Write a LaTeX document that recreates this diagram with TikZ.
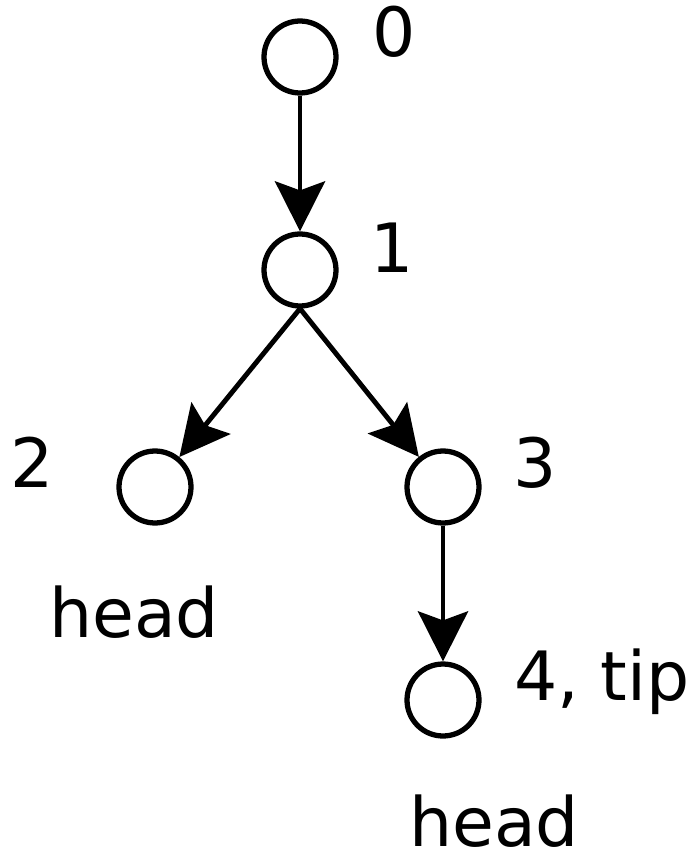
\documentclass[tikz,border=0pt]{standalone}
\usepackage{fontspec}
\setmainfont{DejaVu Sans}
\usetikzlibrary{arrows.meta}

\begin{document}
\begin{tikzpicture}[x=0.02cm,y=-0.02cm,
    state/.style={draw,circle,line width=3pt,minimum size=1.44cm,inner sep=0pt},
    lbl/.style={anchor=base west,inner sep=0pt,font=\fontsize{38.7}{46}\selectfont},
    edge/.style={line width=2.8pt,-{Stealth[length=1cm,width=1cm,inset=0.18cm]}}]
    \useasboundingbox (0,0) rectangle (695,855);
    % the commits
    \node[state] (n0) at (300,57) {};
    \node[state] (n1) at (300,270) {};
    \node[state] (n2) at (155,487) {};
    \node[state] (n3) at (443,487) {};
    \node[state] (n4) at (443,700) {};
    % their labels
    \node[lbl] (l0) at (372,57) {0};
    \node[lbl] (l1) at (370,272) {1};
    \node[lbl] (l2) at (10,487) {2};
    \node[lbl] (l3) at (513,487) {3};
    \node[lbl] (l4) at (514,700) {4, tip};
    \node[lbl] (h2) at (49,637) {head};
    \node[lbl] (h4) at (409,846) {head};
    % parent links
    \draw[edge] (n0) -- (n1);
    \draw[edge] (n1.south) -- (n2);
    \draw[edge] (n1.south) -- (n3);
    \draw[edge] (n3) -- (n4);
\end{tikzpicture}
\end{document}
